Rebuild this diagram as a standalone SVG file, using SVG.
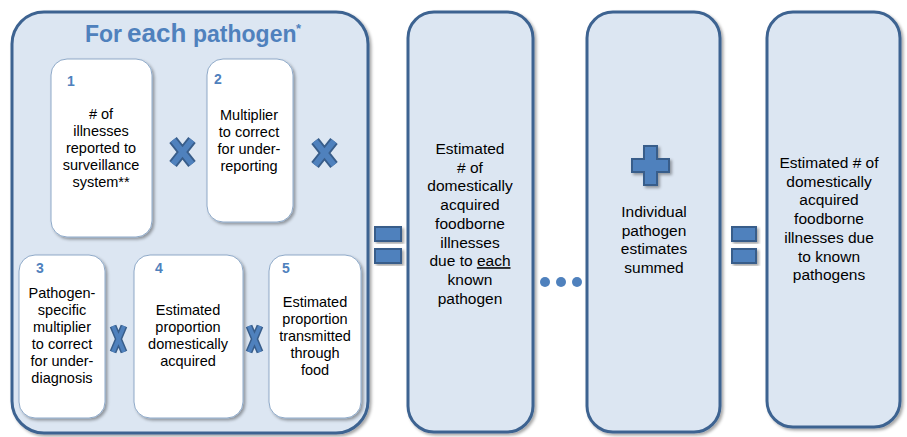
<svg xmlns="http://www.w3.org/2000/svg" width="907" height="437" viewBox="0 0 907 437">
<defs>
<filter id="sh" x="-20%" y="-20%" width="140%" height="140%">
<feDropShadow dx="2" dy="2" stdDeviation="1.8" flood-color="#000" flood-opacity="0.35"/>
</filter>
<style>
.big{fill:#DCE6F2;stroke:#3D6391;stroke-width:3;filter:url(#sh)}
.card{fill:#fff;stroke:#8EA9C8;stroke-width:1;filter:url(#sh)}
.t{font-family:"Liberation Sans",Arial,sans-serif;font-size:14.5px;fill:#000;text-anchor:middle}
.tl{font-family:"Liberation Sans",Arial,sans-serif;font-size:15.5px;fill:#000;text-anchor:middle}
.num{font-family:"Liberation Sans",Arial,sans-serif;font-size:14px;font-weight:bold;fill:#4F81BD;text-anchor:middle}
.title{font-family:"Liberation Sans",Arial,sans-serif;font-weight:bold;fill:#4F81BD}
.op{fill:#4F81BD;stroke:#385D8A;stroke-width:2;filter:url(#sh)}
.xo{stroke:#385D8A;stroke-width:9.5;fill:none;stroke-linecap:butt}
.xi{stroke:#4F81BD;stroke-width:6;fill:none;stroke-linecap:butt}
.xon{stroke:#385D8A;stroke-width:7;fill:none;stroke-linecap:butt}
.xin{stroke:#4F81BD;stroke-width:4;fill:none;stroke-linecap:butt}
</style>
</defs>

<g id="for-each-pathogen">
<rect class="big" x="12" y="12" width="356" height="421" rx="32"/>
<text class="title" y="42"><tspan x="85" font-size="23">For</tspan><tspan x="127" font-size="26">each</tspan><tspan x="193" font-size="23">pathogen</tspan><tspan x="296" y="33" font-size="13">*</tspan></text>
</g>

<g id="box1">
<rect class="card" x="51" y="59" width="101" height="178" rx="16"/>
<text class="num" x="71" y="86">1</text>
<text class="t"><tspan x="101" y="119">#  of</tspan><tspan x="101" y="136">illnesses</tspan><tspan x="101" y="153">reported to</tspan><tspan x="101" y="170">surveillance</tspan><tspan x="101" y="187">system**</tspan></text>
</g>

<g id="box2">
<rect class="card" x="207" y="59" width="86" height="163" rx="16"/>
<text class="num" x="218" y="84">2</text>
<text class="t"><tspan x="249" y="120">Multiplier</tspan><tspan x="249" y="137">to correct</tspan><tspan x="249" y="154">for under-</tspan><tspan x="249" y="171">reporting</tspan></text>
</g>

<g id="box3">
<rect class="card" x="19" y="255" width="86" height="163" rx="16"/>
<text class="num" x="40" y="273">3</text>
<text class="t"><tspan x="62" y="298">Pathogen-</tspan><tspan x="62" y="315">specific</tspan><tspan x="62" y="332">multiplier</tspan><tspan x="62" y="349">to correct</tspan><tspan x="62" y="366">for under-</tspan><tspan x="62" y="383">diagnosis</tspan></text>
</g>

<g id="box4">
<rect class="card" x="134" y="255" width="109" height="163" rx="16"/>
<text class="num" x="159" y="273">4</text>
<text class="t"><tspan x="188" y="315">Estimated</tspan><tspan x="188" y="332">proportion</tspan><tspan x="188" y="349">domestically</tspan><tspan x="188" y="366">acquired</tspan></text>
</g>

<g id="box5">
<rect class="card" x="269" y="255" width="92" height="163" rx="16"/>
<text class="num" x="286" y="273">5</text>
<text class="t"><tspan x="315" y="307">Estimated</tspan><tspan x="315" y="324">proportion</tspan><tspan x="315" y="341">transmitted</tspan><tspan x="315" y="358">through</tspan><tspan x="315" y="375">food</tspan></text>
</g>

<g id="per-pathogen-estimate">
<rect class="big" x="408" y="12" width="125" height="420" rx="26"/>
<text class="tl"><tspan x="470" y="154">Estimated</tspan><tspan x="470" y="172.7"># of</tspan><tspan x="470" y="191.4">domestically</tspan><tspan x="470" y="210.1">acquired</tspan><tspan x="470" y="228.8">foodborne</tspan><tspan x="470" y="247.5">illnesses</tspan><tspan x="470" y="266.2">due to <tspan text-decoration="underline">each</tspan></tspan><tspan x="470" y="284.9">known</tspan><tspan x="470" y="303.6">pathogen</tspan></text>
</g>

<g id="summed">
<rect class="big" x="587" y="12" width="133" height="420" rx="26"/>
<text class="tl"><tspan x="654" y="217">Individual</tspan><tspan x="654" y="235.7">pathogen</tspan><tspan x="654" y="254.4">estimates</tspan><tspan x="654" y="273.1">summed</tspan></text>
</g>

<g id="total">
<rect class="big" x="767" y="12" width="133" height="415" rx="26"/>
<text class="tl"><tspan x="829" y="168">Estimated # of</tspan><tspan x="829" y="186.7">domestically</tspan><tspan x="829" y="205.4">acquired</tspan><tspan x="829" y="224.1">foodborne</tspan><tspan x="829" y="242.8">illnesses due</tspan><tspan x="829" y="261.5">to known</tspan><tspan x="829" y="280.2">pathogens</tspan></text>
</g>

<g id="operators">
<g id="times1">
<path class="xo" d="M173 140 L192 164 M192 140 L173 164"/>
<path class="xi" d="M173 140 L192 164 M192 140 L173 164"/>
</g>
<g id="times2">
<path class="xo" d="M315 141 L334 165 M334 141 L315 165"/>
<path class="xi" d="M315 141 L334 165 M334 141 L315 165"/>
</g>
<g id="times3">
<path class="xon" d="M113 326 L124 352 M124 326 L113 352"/>
<path class="xin" d="M113 326 L124 352 M124 326 L113 352"/>
</g>
<g id="times4">
<path class="xon" d="M249 326 L260 352 M260 326 L249 352"/>
<path class="xin" d="M249 326 L260 352 M260 326 L249 352"/>
</g>
<g id="equals1">
<rect class="op" x="375" y="227" width="26" height="14"/>
<rect class="op" x="375" y="249" width="26" height="14"/>
</g>
<g id="ellipsis" fill="#4F81BD">
<circle cx="545" cy="282" r="5"/>
<circle cx="561" cy="282" r="5"/>
<circle cx="577" cy="282" r="5"/>
</g>
<g id="plus">
<path class="op" d="M644 146 H657 V159 H669 V172 H657 V185 H644 V172 H632 V159 H644 Z"/>
</g>
<g id="equals2">
<rect class="op" x="732" y="227" width="24" height="14"/>
<rect class="op" x="732" y="249" width="24" height="14"/>
</g>
</g>
</svg>
